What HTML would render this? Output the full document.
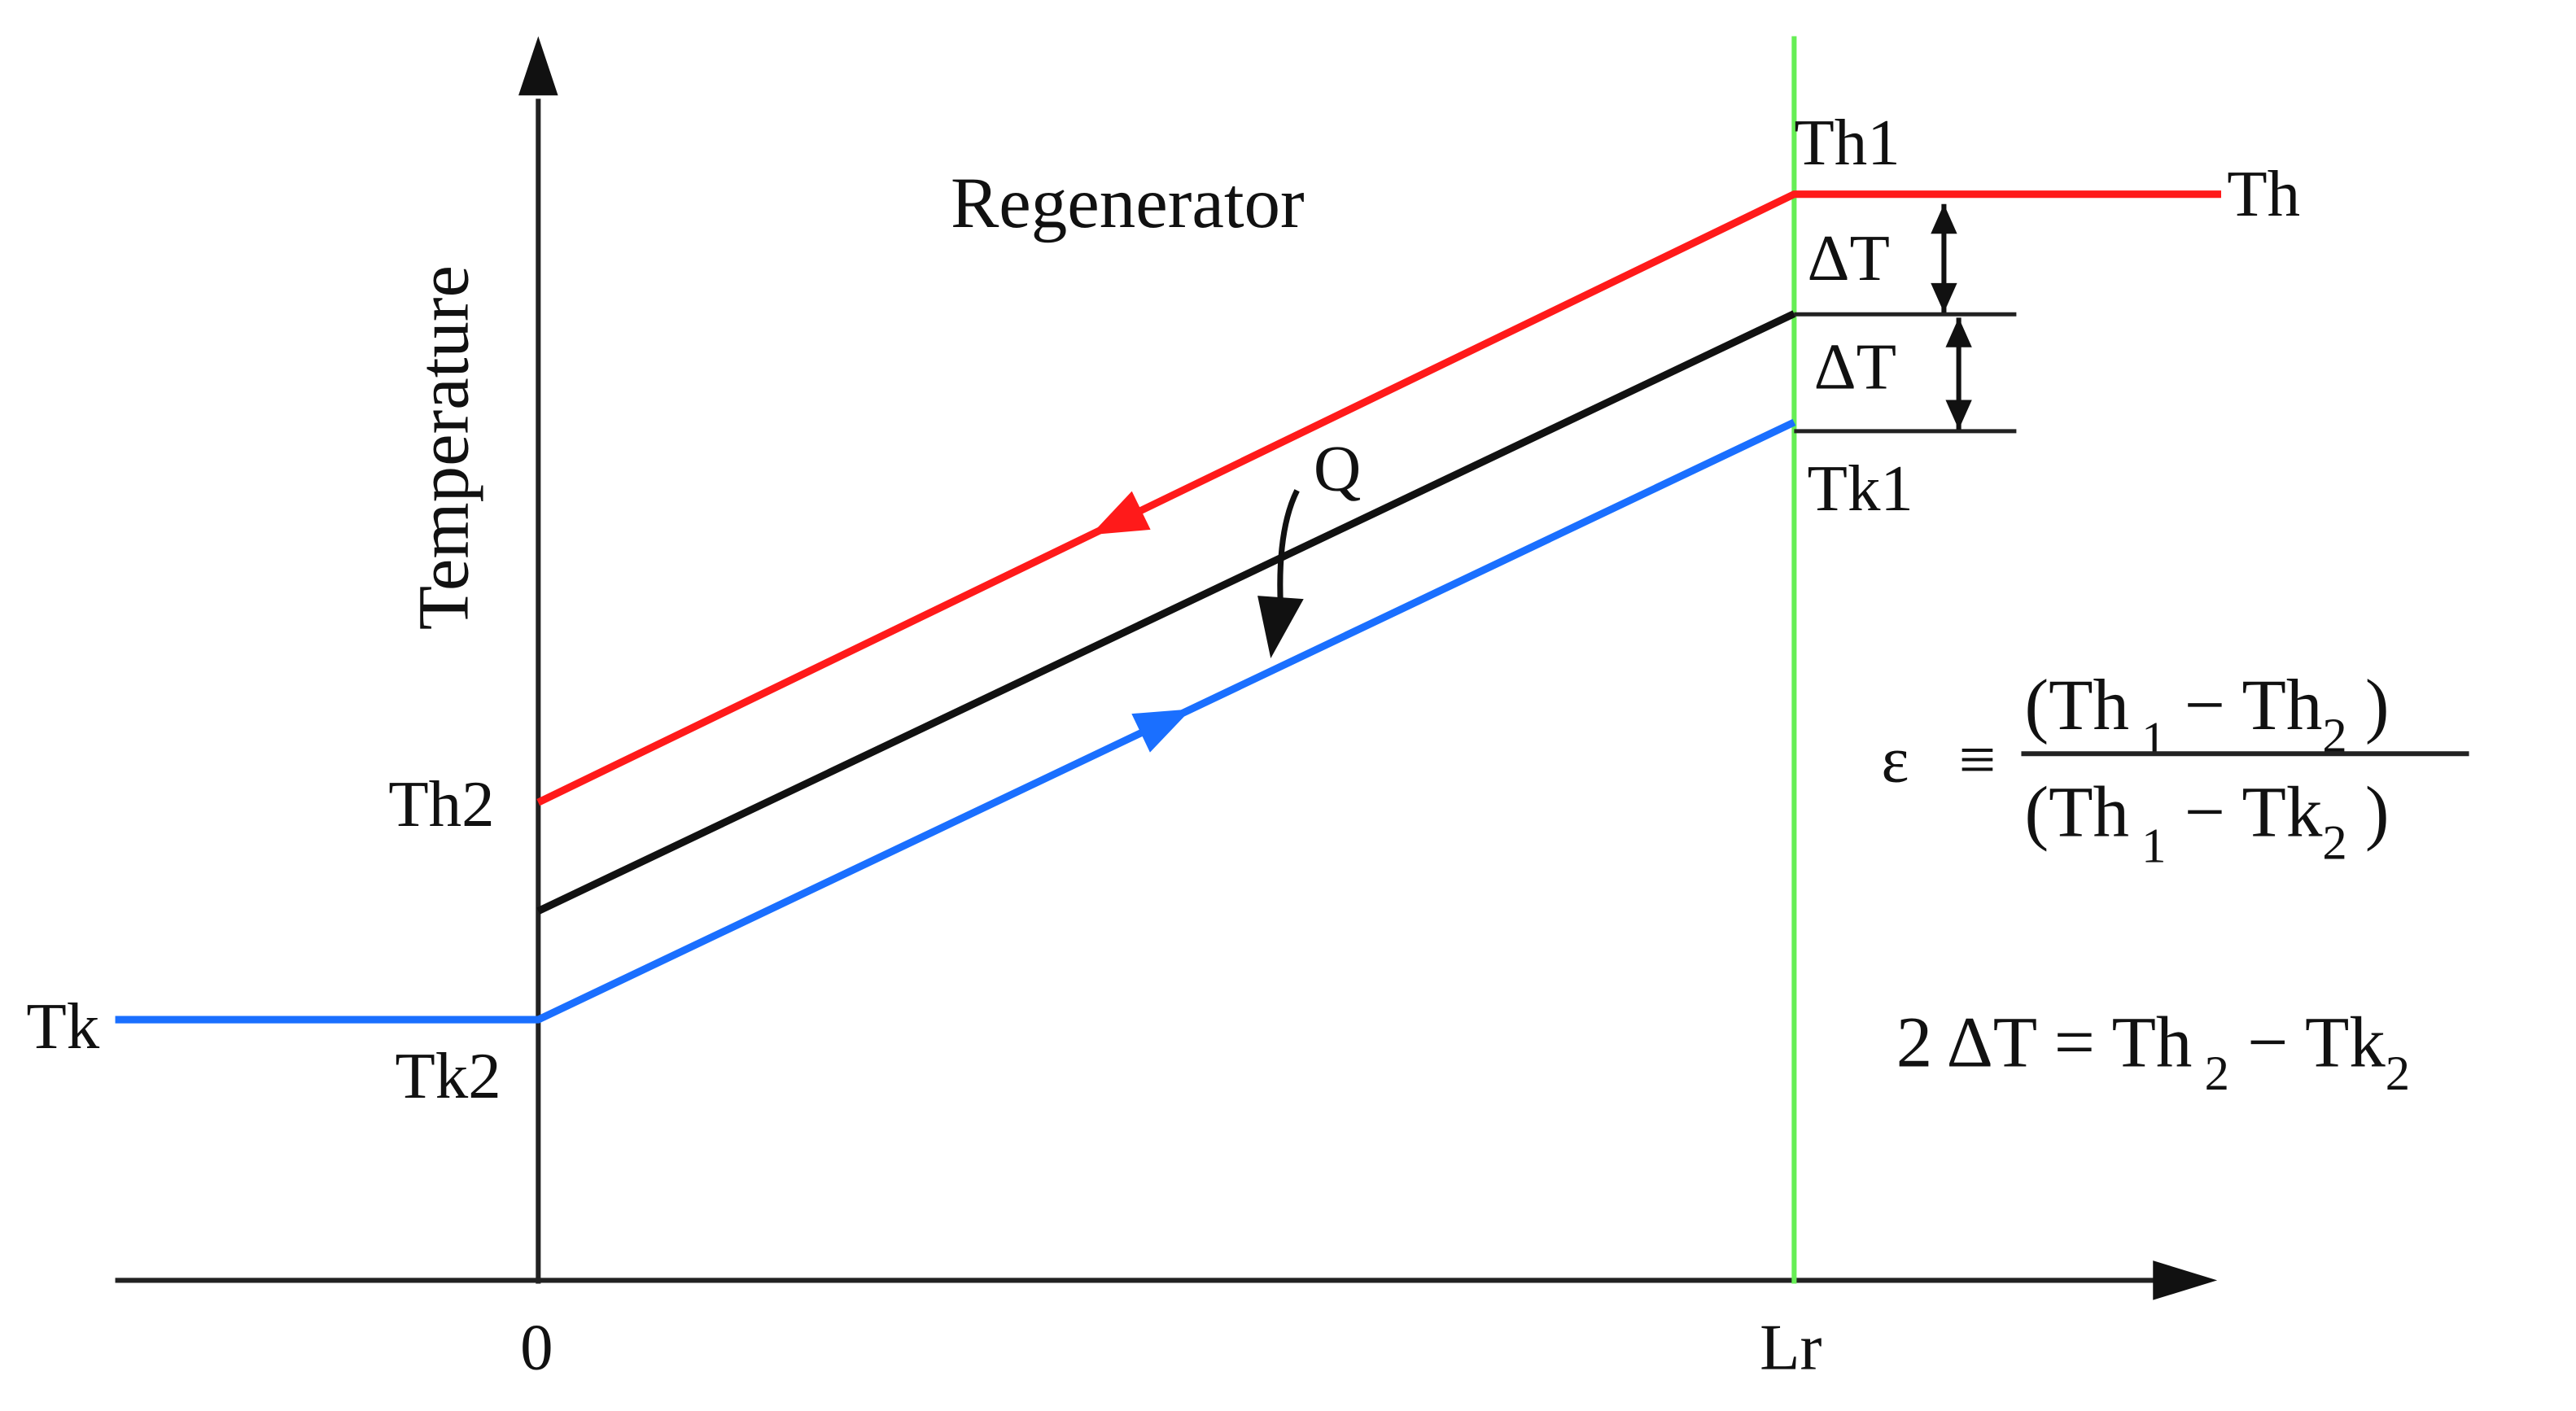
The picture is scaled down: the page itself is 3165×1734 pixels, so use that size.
<!DOCTYPE html>
<html><head><meta charset="utf-8"><style>
html,body{margin:0;padding:0;background:#fff;}
svg{display:block;}
text{font-family:"Liberation Serif",serif;fill:#111;}
</style></head><body>
<svg id="chart" width="3165" height="1734" viewBox="0 0 1565 857.4" xmlns="http://www.w3.org/2000/svg">
<g id="axes">
<line x1="327" y1="780" x2="327" y2="60" stroke="#222" stroke-width="3"/>
<polygon points="327,22 315,58 339,58" fill="#111"/>
<line x1="70" y1="778" x2="1310" y2="778" stroke="#222" stroke-width="3"/>
<polygon points="1347,778 1308,766 1308,790" fill="#111"/>
<line x1="1090" y1="22" x2="1090" y2="780" stroke="#66ee55" stroke-width="3"/>
<text x="326" y="832" font-size="40" text-anchor="middle">0</text>
<text x="1088" y="832" font-size="40" text-anchor="middle">Lr</text>
<text transform="translate(284,272) rotate(-90)" font-size="44" text-anchor="middle">Temperature</text>
<text x="685" y="138" font-size="44" text-anchor="middle">Regenerator</text>
</g>
<g id="series"></g>
<g id="labels">
<text x="1090" y="100" font-size="40">Th1</text>
<text x="1353" y="131" font-size="40">Th</text>
<text x="1098" y="170" font-size="40">ΔT</text>
<text x="1102" y="236" font-size="40">ΔT</text>
<text x="1098" y="310" font-size="40">Tk1</text>
<text x="798" y="298" font-size="40">Q</text>
<text x="236" y="502" font-size="40">Th2</text>
<text x="240" y="667" font-size="40">Tk2</text>
<text x="16" y="637" font-size="40">Tk</text>
<line x1="1090" y1="191" x2="1225" y2="191" stroke="#222" stroke-width="2.5"/>
<line x1="1090" y1="262" x2="1225" y2="262" stroke="#222" stroke-width="2.5"/>
<line x1="1181" y1="124" x2="1181" y2="190" stroke="#111" stroke-width="3"/>
<polygon points="1181,124 1173,142 1189,142" fill="#111"/><polygon points="1181,190 1173,172 1189,172" fill="#111"/>
<line x1="1190" y1="193" x2="1190" y2="261" stroke="#111" stroke-width="3"/>
<polygon points="1190,193 1182,211 1198,211" fill="#111"/><polygon points="1190,261 1182,243 1198,243" fill="#111"/>
<path d="M788,298 Q776,322 778,368" stroke="#111" stroke-width="3.5" fill="none"/>
<polygon points="772,400 764,362 792,364" fill="#111"/>
<g>
<text x="1143" y="475" font-size="40">ε</text>
<text x="1190" y="475" font-size="40">≡</text>
<text x="1230" y="443" font-size="44">(Th<tspan font-size="30" dy="16"> 1</tspan><tspan dy="-16"> − Th</tspan><tspan font-size="30" dy="14">2</tspan><tspan dy="-14"> )</tspan></text>
<line x1="1228" y1="458" x2="1500" y2="458" stroke="#222" stroke-width="3"/>
<text x="1230" y="508" font-size="44">(Th<tspan font-size="30" dy="16"> 1</tspan><tspan dy="-16"> − Tk</tspan><tspan font-size="30" dy="14">2</tspan><tspan dy="-14"> )</tspan></text>
</g>
<text x="1152" y="648" font-size="44">2 ΔT = Th<tspan font-size="30" dy="14"> 2</tspan><tspan dy="-14">  − Tk</tspan><tspan font-size="30" dy="14">2</tspan></text>
</g>
<script>
const xPositions = [-1, 0, 1, 1.34];
const hotValues = [null, 0.44, 1.0, 1.0];
const wallValues = [null, 0.34, 0.89, null];
const coldValues = [0.24, 0.24, 0.79, null];
const X0 = 327, X1 = 1090, Y0 = 778;
function sx(v){ return X0 + v*(X1-X0) * (v<0 ? 257/763 : 1); }
function sy(v){ return Y0 - v*(Y0-118); }
const ns = "http://www.w3.org/2000/svg";
const g = document.getElementById('series');
function draw(vals, color, name){
  const pts=[];
  vals.forEach((v,i)=>{ if(v!==null) pts.push(sx(xPositions[i])+','+sy(v)); });
  const pl=document.createElementNS(ns,'polyline');
  pl.setAttribute('points',pts.join(' '));
  pl.setAttribute('fill','none');
  pl.setAttribute('stroke',color);
  pl.setAttribute('stroke-width','4.5');
  
  
  g.appendChild(pl);
}
draw(hotValues,'#ff1a1a','hot-gas-line');
draw(wallValues,'#111','wall-temperature-line');
draw(coldValues,'#1a6fff','cold-gas-line');
function arrowOn(vals, t, color, dir, name){
  const xa=sx(xPositions[1]+(xPositions[2]-xPositions[1])*t);
  const ya=sy(vals[1]+(vals[2]-vals[1])*t);
  const ang=Math.atan2(sy(vals[2])-sy(vals[1]), sx(xPositions[2])-sx(xPositions[1]))*180/Math.PI + (dir<0?180:0);
  const p=document.createElementNS(ns,'polygon');
  p.setAttribute('points','0,0 -34,-13 -34,13');
  p.setAttribute('fill',color);
  p.setAttribute('transform','translate('+xa+','+ya+') rotate('+ang+')');
  
  
  g.appendChild(p);
}
arrowOn(hotValues,0.44,'#ff1a1a',-1,'hot-flow-arrow');
arrowOn(coldValues,0.52,'#1a6fff',1,'cold-flow-arrow');
</script>
</svg>
</body></html>
